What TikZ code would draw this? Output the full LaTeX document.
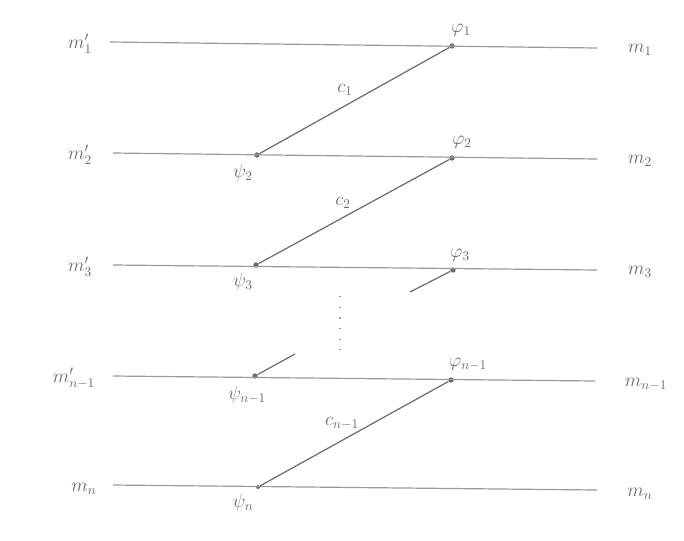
\documentclass[tikz,border=0pt]{standalone}
\usetikzlibrary{calc}
\definecolor{ink}{HTML}{6A6A6A}
\definecolor{lightink}{HTML}{9A9A9A}
\begin{document}
\begin{tikzpicture}[x=0.75pt,y=-0.75pt,
  hline/.style={draw=lightink,line width=0.9pt},
  diag/.style={draw=ink,line width=0.9pt},
  pt/.style={circle,fill=ink,inner sep=0pt,minimum size=4pt},
  lab/.style={text=ink,font=\fontsize{14}{16}\selectfont,inner sep=1pt}]
\useasboundingbox (0,0) rectangle (684,540);
% line ends
\coordinate (L1) at (110,42); \coordinate (R1) at (597,48);
\coordinate (L2) at (113,153); \coordinate (R2) at (597,159);
\coordinate (L3) at (113,265); \coordinate (R3) at (597,270);
\coordinate (L4) at (113,376); \coordinate (R4) at (595,381);
\coordinate (L5) at (113,485); \coordinate (R5) at (597,490);
% points
\node[pt] (p1) at (452,46) {};
\node[pt] (q2) at (257,155) {};
\node[pt] (p2) at (452,158) {};
\node[pt] (q3) at (256,265) {};
\node[pt] (p3) at (453,270) {};
\node[pt] (q4) at (255,376) {};
\node[pt] (p4) at (451,380) {};
\node[pt,minimum size=3pt] (q5) at (258,487) {};
\coordinate (s3) at (410,292);
\coordinate (s4) at (295,354);
\coordinate (d1) at (340,296);
\coordinate (d2) at (340,350);
% horizontal lines
\draw[hline] (L1) -- (R1);
\draw[hline] (L2) -- (R2);
\draw[hline] (L3) -- (R3);
\draw[hline] (L4) -- (R4);
\draw[hline] (L5) -- (R5);
% diagonals
\draw[diag] (p1) -- (q2);
\draw[diag] (p2) -- (q3);
\draw[diag] (p3) -- (s3);
\draw[diag] (q4) -- (s4);
\draw[diag] (p4) -- (q5);
\draw[lightink,line width=1pt,dash pattern=on 1pt off 7pt] (d1) -- (d2);
% connector labels
\node[lab] (c1) at (345,90) {$c_1$};
\node[lab] (c2) at (343,203) {$c_2$};
\node[lab] (cn) at (342,423) {$c_{n-1}$};
% left labels
\node[lab] (ml1) at (80,44) {$m'_1$};
\node[lab] (ml2) at (80,155) {$m'_2$};
\node[lab] (ml3) at (80,267) {$m'_3$};
\node[lab] (ml4) at (74,378) {$m'_{n-1}$};
\node[lab] (ml5) at (84,489) {$m_n$};
% right labels
\node[lab] (mr1) at (640,50) {$m_1$};
\node[lab] (mr2) at (640,161) {$m_2$};
\node[lab] (mr3) at (640,272) {$m_3$};
\node[lab] (mr4) at (646,384) {$m_{n-1}$};
\node[lab] (mr5) at (640,494) {$m_n$};
% phi labels
\node[lab] (f1) at (461,30) {$\varphi_1$};
\node[lab] (f2) at (462,142) {$\varphi_2$};
\node[lab] (f3) at (460,255) {$\varphi_3$};
\node[lab] (f4) at (468,364) {$\varphi_{n-1}$};
% psi labels
\node[lab] (g2) at (243,173) {$\psi_2$};
\node[lab] (g3) at (243,282) {$\psi_3$};
\node[lab] (g4) at (247,395) {$\psi_{n-1}$};
\node[lab] (g5) at (243,503) {$\psi_n$};
\end{tikzpicture}
\end{document}
